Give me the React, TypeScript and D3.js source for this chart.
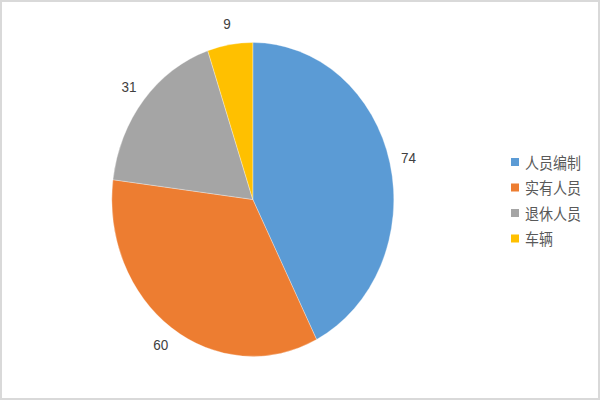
import React from "react";
import * as d3 from "d3";

const categories = ["人员编制", "实有人员", "退休人员", "车辆"];
const values = [74, 60, 31, 9];
const colors = ["#5B9BD5", "#ED7D31", "#A5A5A5", "#FFC000"];

const W = 600;
const H = 400;
const SY = 157 / 141;
const CX = 252.8;
const CY = 199.5 / SY;
const R = 141;
const LABEL_R = 160;

export default function App() {
  const data = categories.map((c, i) => ({ name: c, value: values[i], color: colors[i] }));
  const pie = d3.pie<any>().sort(null).value((d: any) => d.value);
  const arcs = pie(data);
  const arcGen = d3.arc<any>().innerRadius(0).outerRadius(R);
  const labelArc = d3.arc<any>().innerRadius(LABEL_R).outerRadius(LABEL_R);
  const legendY = d3.scaleBand<string>().domain(categories).range([162 / SY - 11.45, 162 / SY - 11.45 + 22.9 * 4]);

  return (
    <svg width={W} height={H} style={{ position: "absolute", left: 0, top: 0 }}>
      <rect x={0} y={0} width={W} height={H} fill="#ffffff" />
      <rect x={1} y={1} width={W - 2} height={H - 2} fill="none" stroke="#d9d9d9" strokeWidth={2} />
      <g transform={`scale(1, ${SY})`}>
        <g transform={`translate(${CX}, ${CY})`}>
          {arcs.map((a, i) => (
            <path key={i} d={arcGen(a) as string} fill={a.data.color} stroke="#ffffff" strokeWidth={0.3} />
          ))}
          {arcs.map((a, i) => {
            const [x, y] = labelArc.centroid(a);
            return (
              <text
                key={"l" + i}
                x={x}
                y={y}
                textAnchor="middle"
                dominantBaseline="central"
                fontFamily="'Liberation Sans', Arial, sans-serif"
                fontSize={13.5}
                fill="#404040"
              >
                {a.data.value}
              </text>
            );
          })}
        </g>
        <g>
          {categories.map((c, i) => {
            const yc = (legendY(c) as number) + legendY.bandwidth() / 2;
            return (
              <g key={c}>
                <rect x={511} y={yc - 4 / SY * 1} width={8} height={8 / SY} fill={colors[i]} />
                <text
                  x={525}
                  y={yc}
                  dominantBaseline="central"
                  fontFamily="'Noto Sans CJK SC', sans-serif"
                  fontSize={14}
                  fill="#595959"
                >
                  {c}
                </text>
              </g>
            );
          })}
        </g>
      </g>
    </svg>
  );
}
